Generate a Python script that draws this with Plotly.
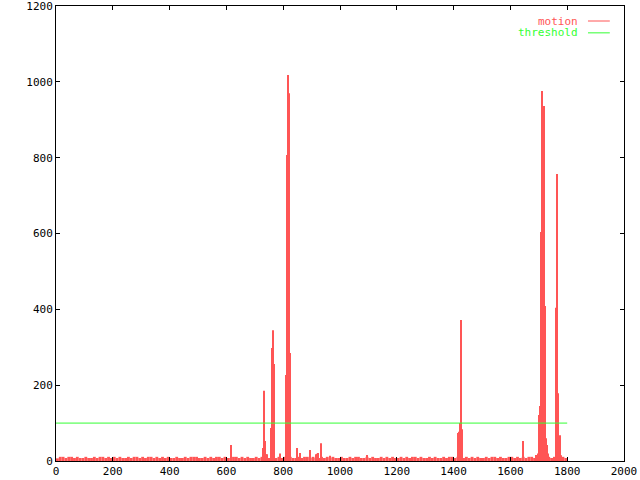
import plotly.graph_objects as go

# ---- data ----
# baseline motion level, one value per 10-frame bin (frames 0..1799)
bin_size = 10
baseline = [
    7, 11, 11, 8, 11, 11, 8, 11, 8, 8, 11, 8, 8, 11, 8, 11, 11, 8, 11, 8,
    11, 8, 11, 8, 8, 11, 8, 11, 11, 8, 11, 8, 11, 11, 8, 11, 8, 11, 8, 11,
    8, 8, 11, 8, 8, 11, 8, 11, 11, 11, 8, 8, 11, 8, 11, 8, 11, 11, 8, 11,
    8, 8, 11, 11, 8, 11, 8, 11, 8, 8, 11, 8, 11, 8, 8, 8, 11, 8, 11, 8,
    11, 8, 11, 8, 8, 11, 8, 11, 11, 8, 11, 8, 8, 11, 8, 11, 8, 11, 8, 8,
    11, 8, 8, 11, 8, 11, 11, 8, 8, 11, 8, 11, 8, 8, 11, 8, 11, 8, 11, 8,
    8, 11, 8, 11, 8, 11, 11, 8, 11, 8, 8, 11, 8, 11, 8, 8, 11, 8, 11, 11,
    8, 11, 8, 8, 11, 8, 11, 8, 11, 8, 8, 11, 8, 11, 11, 8, 11, 8, 8, 11,
    11, 8, 11, 8, 11, 8, 11, 11, 8, 11, 8, 11, 8, 11, 8, 11, 8, 11, 11, 8,
]
# individual frames standing out of the baseline
spike_frames = [616, 729, 732, 736, 739, 743, 757, 760, 764, 768, 789,
                810, 813, 817, 820, 824, 849, 859, 894, 915, 919, 922, 933,
                965, 1095, 1415, 1419, 1423, 1426, 1430, 1644, 1690, 1697,
                1701, 1704, 1708, 1711, 1715, 1718, 1722, 1725, 1729, 1732,
                1761, 1764, 1768, 1775, 1778]
spike_values = [42, 34, 185, 53, 18, 18, 87, 298, 345, 256, 20,
                227, 807, 1018, 970, 285, 34, 21, 29, 18, 19, 21, 47,
                14, 16, 74, 77, 100, 372, 84, 53, 16, 20,
                121, 145, 604, 976, 583, 936, 409, 60, 42, 20,
                404, 757, 179, 68, 15]
threshold_x = [0, 1800]
threshold_y = [100, 100]

x_ticks = list(range(0, 2001, 200))
y_ticks = list(range(0, 1201, 200))

RED = "#ff5555"
GREEN = "#33ff33"
FONT = "DejaVu Sans Mono"

base_x = [i * bin_size + bin_size / 2 for i in range(len(baseline))]

fig = go.Figure()
fig.add_trace(go.Bar(x=base_x, y=baseline, width=bin_size,
                     marker=dict(color=RED, line=dict(width=0)),
                     name="motion", showlegend=False, hoverinfo="x+y"))
fig.add_trace(go.Bar(x=spike_frames, y=spike_values, width=3.5,
                     marker=dict(color=RED, line=dict(width=0)),
                     name="motion", showlegend=False))
fig.add_trace(go.Scatter(x=threshold_x, y=threshold_y, mode="lines",
                         line=dict(color=GREEN, width=1),
                         name="threshold", showlegend=False))

axis_common = dict(showline=True, linecolor="black", linewidth=1,
                   mirror="ticks", ticks="inside", ticklen=4,
                   tickcolor="black", showgrid=False, zeroline=False,
                   automargin=False, ticklabeloverflow="allow",
                   tickfont=dict(family=FONT, size=11, color="black"))

fig.update_layout(
    width=640, height=480,
    margin=dict(l=56, r=16, t=6, b=19, autoexpand=False),
    paper_bgcolor="white", plot_bgcolor="white",
    barmode="overlay", showlegend=False,
    xaxis=dict(range=[0, 2000], tickvals=x_ticks, **axis_common),
    yaxis=dict(range=[0, 1200], tickvals=y_ticks, **axis_common),
    annotations=[
        dict(x=0.9225, y=0.967, xref="paper", yref="paper", text="motion",
             showarrow=False, xanchor="right", yanchor="middle",
             font=dict(family=FONT, size=11, color=RED)),
        dict(x=0.9225, y=0.941, xref="paper", yref="paper", text="threshold",
             showarrow=False, xanchor="right", yanchor="middle",
             font=dict(family=FONT, size=11, color=GREEN)),
    ],
    shapes=[
        dict(type="line", xref="paper", yref="paper", x0=0.9366, x1=0.975,
             y0=0.967, y1=0.967, line=dict(color=RED, width=1)),
        dict(type="line", xref="paper", yref="paper", x0=0.9366, x1=0.975,
             y0=0.941, y1=0.941, line=dict(color=GREEN, width=1)),
    ],
)

fig.write_html("out.html",
               config={"displayModeBar": False},
               post_script="document.body.style.margin='0';"
                           "document.body.style.padding='0';")
